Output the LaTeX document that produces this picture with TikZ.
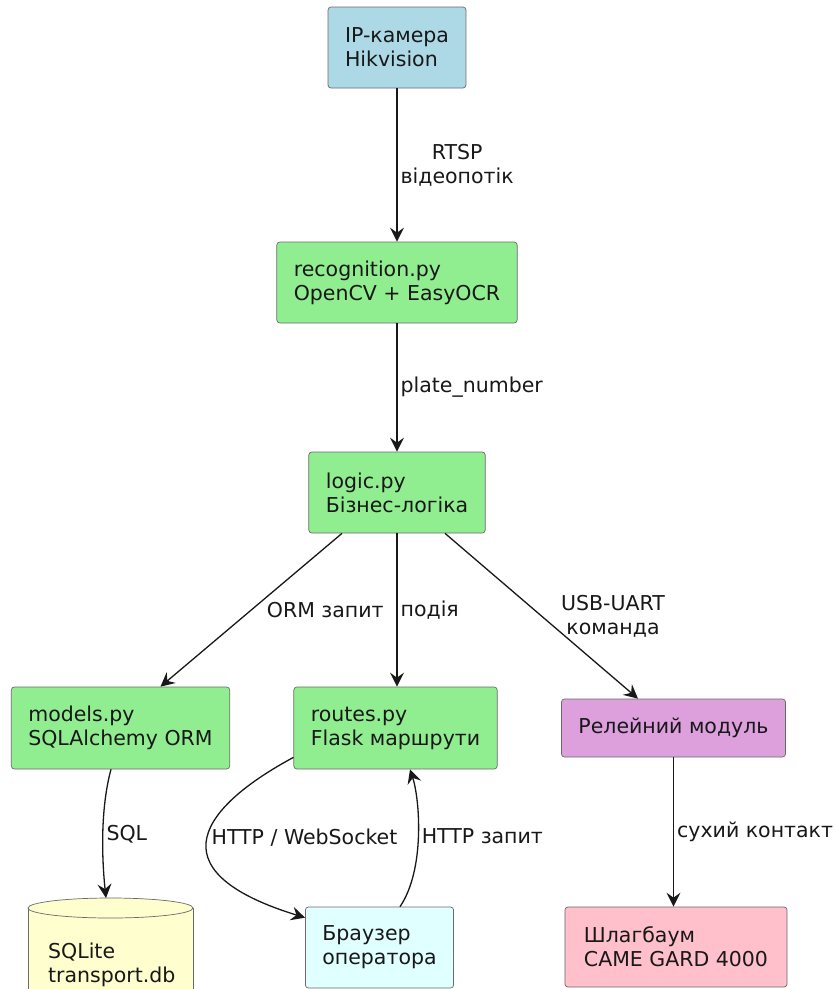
\documentclass[tikz,border=0pt]{standalone}
\usepackage{fontspec}
\setmainfont{DejaVu Sans}
\usetikzlibrary{arrows.meta,calc}
\definecolor{camblue}{HTML}{ADD8E6}
\definecolor{modgreen}{HTML}{90EE90}
\definecolor{relayplum}{HTML}{DDA0DD}
\definecolor{gatepink}{HTML}{FFC0CB}
\definecolor{browsercyan}{HTML}{E0FFFF}
\definecolor{dbyellow}{HTML}{FEFECE}
\definecolor{edgegray}{HTML}{6A6A6A}
\definecolor{ink}{HTML}{181818}
\tikzset{
  comp/.style   = {draw=edgegray, line width=0.7pt, rounded corners=3pt,
                   inner xsep=17pt, inner ysep=0pt, align=left, text=ink},
  border/.style = {draw=edgegray, line width=0.7pt},
  flow/.style   = {-{Stealth[length=14pt,width=14pt,inset=5pt]}, draw=ink, line width=1.3pt},
  lbl/.style    = {text=ink, inner sep=3pt},
}

\begin{document}
\begin{tikzpicture}[x=1pt,y=-1pt,font=\fontsize{20.5}{24}\selectfont]
\useasboundingbox (0,0) rectangle (835,989);

% components
\node[comp, fill=camblue, minimum height=81pt] (cam) at (397,47.5) {IP-камера\\Hikvision};
\node[comp, fill=modgreen, minimum height=81pt] (recog) at (397,282.5) {recognition.py\\OpenCV + EasyOCR};
\node[comp, fill=modgreen, minimum height=81pt] (logic) at (397,492.5) {logic.py\\Бізнес-логіка};
\node[comp, fill=modgreen, minimum height=82pt] (models) at (120.5,728) {models.py\\SQLAlchemy ORM};
\node[comp, fill=modgreen, minimum height=82pt] (routes) at (395.5,728) {routes.py\\Flask маршрути};
\node[comp, fill=relayplum, minimum height=58pt] (relay) at (673.5,728) {Релейний модуль};
\node[comp, fill=gatepink, inner xsep=19pt, minimum height=80pt] (gate) at (676,947) {Шлагбаум\\CAME GARD 4000};
\node[comp, fill=browsercyan, minimum height=81pt] (browser) at (379.5,947.5) {Браузер\\оператора};

% database cylinder
\coordinate (dbtop) at (110.5,898);
\fill[dbyellow] (28,908) rectangle (193,1000);
\draw[border] (28,908) -- (28,1000) (193,908) -- (193,1000);
\draw[border, fill=dbyellow] (110.5,908) ellipse [x radius=82.5pt, y radius=10pt];
\node[lbl, anchor=west, align=left] (db) at (45,964.6) {SQLite\\transport.db};

% flows
\draw[flow] (cam) -- (recog) node[midway, right, lbl, align=center] {RTSP\\відеопотік};
\draw[flow] (recog) -- (logic) node[midway, right, lbl] {plate\_number};
\draw[flow] ($(logic.south)+(-55,0)$) -- ($(models.north)+(40,0)$) node[midway, right=12pt, lbl] {ORM запит};
\draw[flow] (logic.south) -- (logic.south |- routes.north) node[midway, right, lbl] {подія};
\draw[flow] ($(logic.south)+(48,0)$) -- ($(relay.north)+(-35.5,0)$) node[midway, right=16pt, lbl, align=center] {USB-UART\\команда};
\draw[flow] ($(models.south)+(-9.5,0)$) .. controls (100,810) and (102,860) .. ($(dbtop)+(-4.5,0)$) node[pos=0.5, right, lbl] {SQL};
\draw[flow] ($(routes.south west)+(0,-12)$) .. controls (205,805) and (150,870) .. ($(browser.north west)+(0,11)$) node[pos=0.5, right, lbl] {HTTP / WebSocket};
\draw[flow] ($(browser.north)+(20.5,0)$) .. controls (425,870) and (420,800) .. ($(routes.south)+(14.5,0)$) node[pos=0.5, right, lbl] {HTTP запит};
\draw[flow] (relay.south) -- (relay.south |- gate.north) node[midway, right, lbl] {сухий контакт};
\end{tikzpicture}
\end{document}
